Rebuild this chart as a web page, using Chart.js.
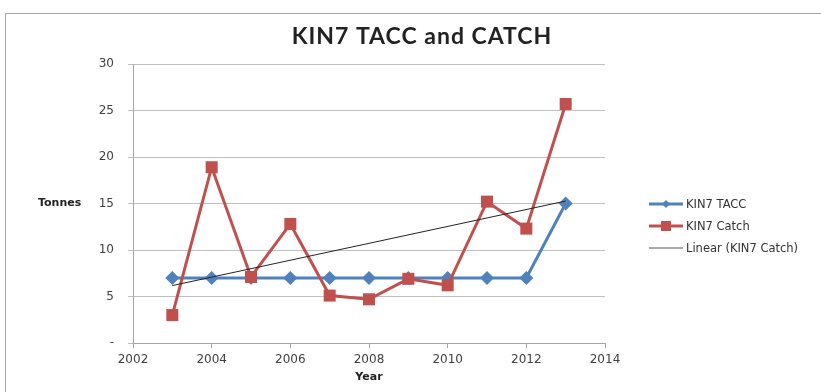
<!DOCTYPE html>
<html>
<head>
<meta charset="utf-8">
<script src="https://cdn.jsdelivr.net/npm/chart.js@4.4.1/dist/chart.umd.min.js"></script>
<style>
  html, body { margin: 0; padding: 0; background: #fff; }
  #wrap { position: relative; width: 821px; height: 392px; overflow: hidden; }
  #frame { position: absolute; left: 5px; top: 13px; width: 830px; height: 400px; border: 1px solid #a6a6a6; box-sizing: border-box; }
  canvas { position: absolute; left: 0; top: 0; }
</style>
</head>
<body>
<div id="wrap">
  <div id="frame"></div>
  <canvas id="grafico-Kin7" width="821" height="392"></canvas>
</div>
<script>
// Años y valores de la serie KIN7
const anios = [2003, 2004, 2005, 2006, 2007, 2008, 2009, 2010, 2011, 2012, 2013];
const tacc = [7, 7, 7, 7, 7, 7, 7, 7, 7, 7, 15];
const captura = [3.0, 18.9, 7.1, 12.8, 5.1, 4.7, 6.9, 6.2, 15.2, 12.3, 25.7];
const ticksX = [2002, 2004, 2006, 2008, 2010, 2012, 2014];
const ticksY = [0, 5, 10, 15, 20, 25, 30];

const AZUL = "#4f81bd";
const ROJO = "#c0504d";
const FUENTE = "'DejaVu Sans', Verdana, sans-serif";

// Tendencia lineal (mínimos cuadrados) de la captura
function tendencia(xs, ys) {
  const n = xs.length;
  const mx = xs.reduce((a, b) => a + b, 0) / n;
  const my = ys.reduce((a, b) => a + b, 0) / n;
  let sxy = 0, sxx = 0;
  for (let i = 0; i < n; i++) {
    sxy += (xs[i] - mx) * (ys[i] - my);
    sxx += (xs[i] - mx) * (xs[i] - mx);
  }
  const m = sxy / sxx;
  const b = my - m * mx;
  return [xs[0], xs[n - 1]].map(x => ({ x: x, y: m * x + b }));
}

const puntos = (xs, ys) => xs.map((x, i) => ({ x: x, y: ys[i] }));

// Títulos y leyenda dibujados a mano (estilo Excel)
const textos = {
  id: "textos",
  afterDraw(chart) {
    const ctx = chart.ctx;
    const area = chart.chartArea;
    ctx.save();
    ctx.fillStyle = "#222";
    ctx.textAlign = "center";
    ctx.textBaseline = "middle";
    ctx.font = "bold 23px Lato, sans-serif";
    ctx.letterSpacing = "1px";
    ctx.fillText("KIN7 TACC and CATCH", 422, 37);
    ctx.letterSpacing = "0px";

    ctx.font = "bold 11px " + FUENTE;
    ctx.fillText("Year", (area.left + area.right) / 2, 377);
    ctx.textAlign = "left";
    ctx.fillText("Tonnes", 38, chart.scales.y.getPixelForValue(15));

    // leyenda
    const filas = [
      { texto: "KIN7 TACC", color: AZUL, ancho: 3, marca: "rombo" },
      { texto: "KIN7 Catch", color: ROJO, ancho: 3, marca: "cuadro" },
      { texto: "Linear (KIN7 Catch)", color: "#555", ancho: 1, marca: null }
    ];
    ctx.font = "11.5px " + FUENTE;
    filas.forEach((f, i) => {
      const y = 204 + i * 22;
      ctx.strokeStyle = f.color;
      ctx.lineWidth = f.ancho;
      ctx.beginPath();
      ctx.moveTo(649, y);
      ctx.lineTo(683, y);
      ctx.stroke();
      ctx.fillStyle = f.color;
      if (f.marca === "rombo") {
        ctx.beginPath();
        ctx.moveTo(666, y - 4);
        ctx.lineTo(670, y);
        ctx.lineTo(666, y + 4);
        ctx.lineTo(662, y);
        ctx.closePath();
        ctx.fill();
      } else if (f.marca === "cuadro") {
        ctx.fillRect(661, y - 5, 10, 10);
      }
      ctx.fillStyle = "#333";
      ctx.fillText(f.texto, 686, y + 1);
    });
    ctx.restore();
  }
};

new Chart(document.getElementById("grafico-Kin7").getContext("2d"), {
  type: "line",
  data: {
    datasets: [
      {
        label: "Linear (KIN7 Catch)",
        data: tendencia(anios, captura),
        borderColor: "#222",
        borderWidth: 1,
        pointRadius: 0,
        order: 0
      },
      {
        label: "KIN7 Catch",
        data: puntos(anios, captura),
        borderColor: ROJO,
        backgroundColor: ROJO,
        borderWidth: 3,
        pointStyle: "rect",
        pointRadius: 8.5,
        pointBorderWidth: 0,
        order: 1
      },
      {
        label: "KIN7 TACC",
        data: puntos(anios, tacc),
        borderColor: AZUL,
        backgroundColor: AZUL,
        borderWidth: 3,
        pointStyle: "rectRot",
        pointRadius: 7,
        pointBorderWidth: 0,
        order: 2
      }
    ]
  },
  options: {
    responsive: false,
    animation: false,
    layout: { padding: { top: 64, right: 216, bottom: 0, left: 0 } },
    plugins: {
      legend: { display: false },
      tooltip: { enabled: false },
      title: { display: false }
    },
    scales: {
      x: {
        type: "linear",
        min: 2002,
        max: 2014,
        afterBuildTicks: (scale) => { scale.ticks = ticksX.map(v => ({ value: v })); },
        afterFit: (scale) => { scale.height = 49; },
        ticks: {
          color: "#404040",
          font: { family: FUENTE, size: 12 },
          padding: 5,
          callback: (v) => String(v)
        },
        grid: { drawOnChartArea: false, color: "#a6a6a6", tickLength: 5 },
        border: { color: "#a6a6a6", width: 1 }
      },
      y: {
        min: 0,
        max: 30,
        afterBuildTicks: (scale) => { scale.ticks = ticksY.map(v => ({ value: v })); },
        afterFit: (scale) => { scale.width = 133; },
        ticks: {
          color: "#404040",
          font: { family: FUENTE, size: 12 },
          padding: 14,
          callback: (v) => v === 0 ? "-" : String(v)
        },
        grid: { color: "#bfbfbf", tickLength: 5 },
        border: { color: "#a6a6a6", width: 1 }
      }
    }
  },
  plugins: [textos]
});
</script>
</body>
</html>
